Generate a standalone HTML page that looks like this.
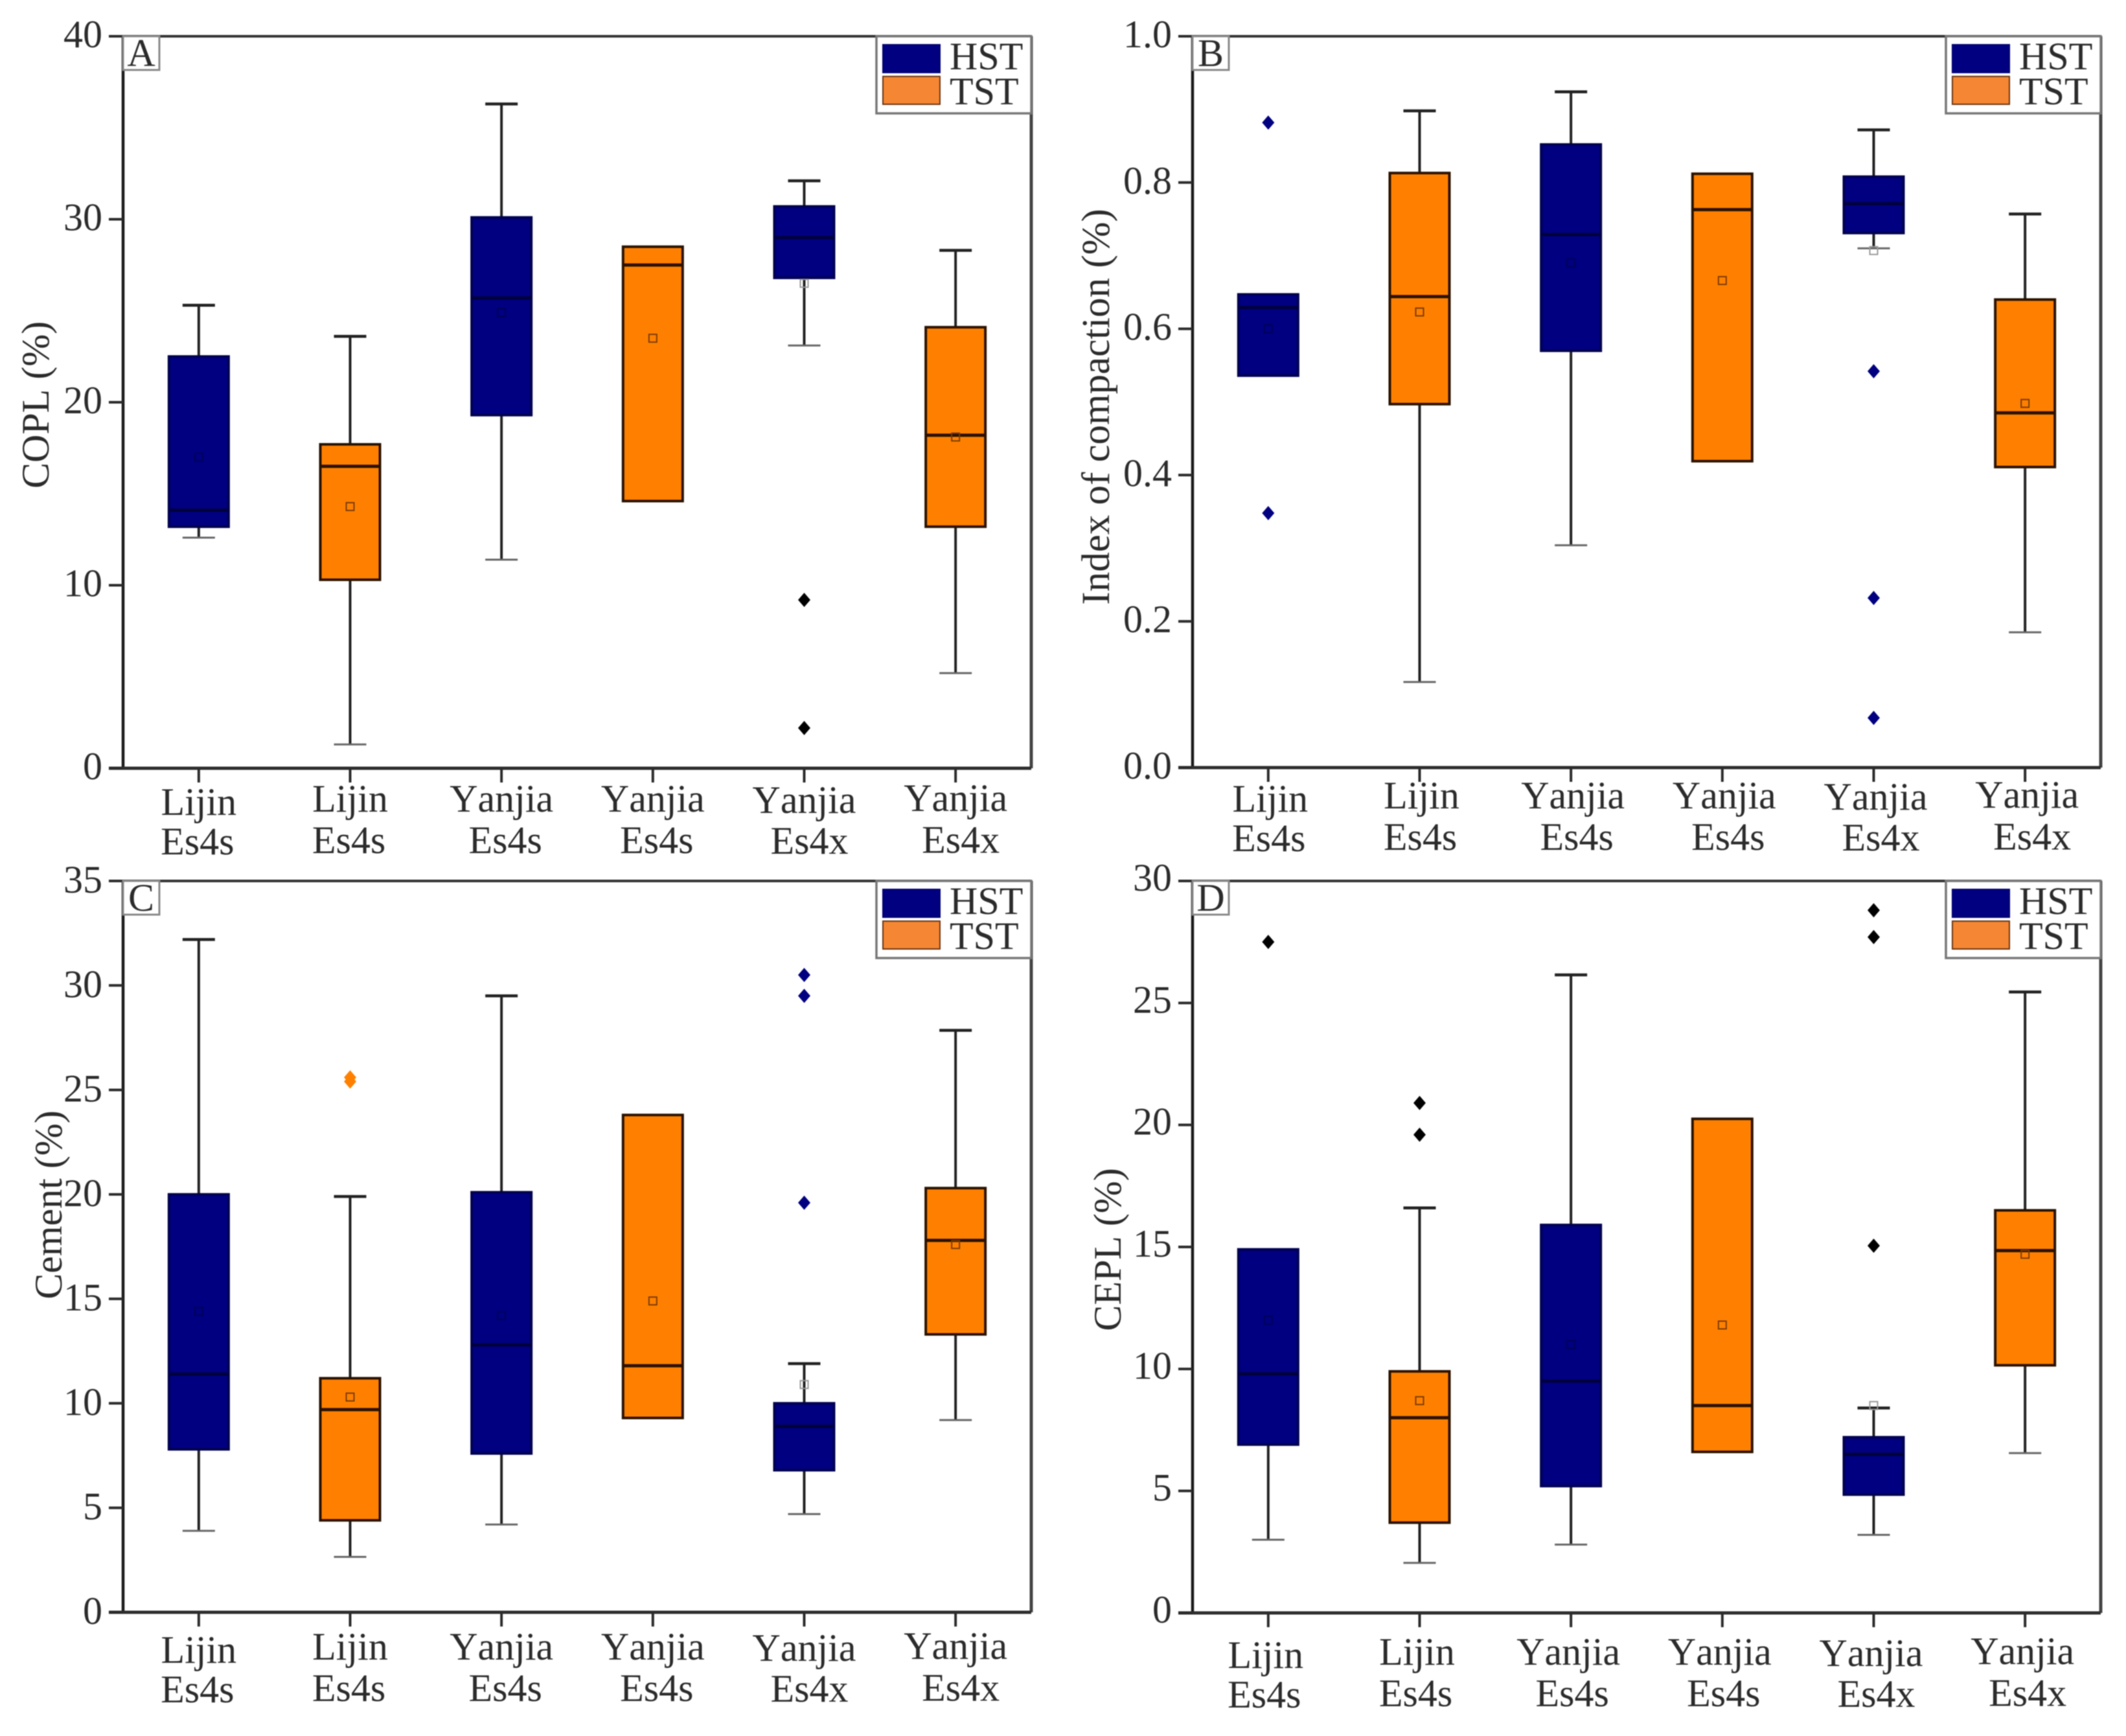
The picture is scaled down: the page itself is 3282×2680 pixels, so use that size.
<!DOCTYPE html>
<html lang="en">
<head>
<meta charset="utf-8">
<title>Box plots of COPL, index of compaction, cement and CEPL</title>
<style>
html,body{margin:0;padding:0;background:#fff;}
#figure{display:block;width:3282px;height:2680px;filter:blur(0.7px);}
text{font-family:"Liberation Serif","Times New Roman",serif;fill:#2b2b2b;font-kerning:none;}
</style>
</head>
<body>
<svg id="figure" xmlns="http://www.w3.org/2000/svg" width="3282" height="2680" viewBox="0 0 3282 2680"></svg>
<script>
// ---------- shared categories ----------
const siteNames = ["Lijin", "Lijin", "Yanjia", "Yanjia", "Yanjia", "Yanjia"];
const memberNames = ["Es4s", "Es4s", "Es4s", "Es4s", "Es4x", "Es4x"];
const tractNames = ["HST", "TST", "HST", "TST", "HST", "TST"];
const legendNames = ["HST", "TST"];

// ---------- panel A : COPL ----------
const panelATicks = [0, 10, 20, 30, 40];
const panelATickLabels = ["0", "10", "20", "30", "40"];
const panelAHigh = [25.3, 23.6, 36.3, null, 32.1, 28.3];
const panelAQ3 = [22.5, 17.7, 30.1, 28.5, 30.7, 24.1];
const panelAMedian = [14.1, 16.5, 25.7, 27.5, 29.0, 18.2];
const panelAQ1 = [13.2, 10.3, 19.3, 14.6, 26.8, 13.2];
const panelALow = [12.6, 1.3, 11.4, null, 23.1, 5.2];
const panelAMean = [17.0, 14.3, 24.9, 23.5, 26.5, 18.1];
const panelAOutliers = [[], [], [], [], [9.2, 2.2], []];

// ---------- panel B : index of compaction ----------
const panelBTicks = [0, 0.2, 0.4, 0.6, 0.8, 1.0];
const panelBTickLabels = ["0.0", "0.2", "0.4", "0.6", "0.8", "1.0"];
const panelBHigh = [null, 0.898, 0.924, null, 0.872, 0.757];
const panelBQ3 = [0.647, 0.813, 0.852, 0.812, 0.808, 0.640];
const panelBMedian = [0.629, 0.644, 0.729, 0.763, 0.771, 0.485];
const panelBQ1 = [0.536, 0.497, 0.570, 0.419, 0.731, 0.411];
const panelBLow = [null, 0.117, 0.304, null, 0.710, 0.185];
const panelBMean = [0.600, 0.623, 0.690, 0.666, 0.707, 0.498];
const panelBOutliers = [[0.882, 0.348], [], [], [], [0.542, 0.232, 0.068], []];

// ---------- panel C : cement ----------
const panelCTicks = [0, 5, 10, 15, 20, 25, 30, 35];
const panelCTickLabels = ["0", "5", "10", "15", "20", "25", "30", "35"];
const panelCHigh = [32.2, 19.9, 29.5, null, 11.9, 27.85];
const panelCQ3 = [20.0, 11.2, 20.1, 23.8, 10.0, 20.3];
const panelCMedian = [11.4, 9.7, 12.8, 11.8, 8.9, 17.8];
const panelCQ1 = [7.8, 4.4, 7.6, 9.3, 6.8, 13.3];
const panelCLow = [3.9, 2.65, 4.2, null, 4.7, 9.2];
const panelCMean = [14.4, 10.3, 14.2, 14.9, 10.9, 17.6];
const panelCOutliers = [[], [25.4, 25.6], [], [], [30.5, 29.5, 19.6], []];

// ---------- panel D : CEPL ----------
const panelDTicks = [0, 5, 10, 15, 20, 25, 30];
const panelDTickLabels = ["0", "5", "10", "15", "20", "25", "30"];
const panelDHigh = [null, 16.6, 26.15, null, 8.4, 25.45];
const panelDQ3 = [14.9, 9.9, 15.9, 20.25, 7.2, 16.5];
const panelDMedian = [9.8, 8.0, 9.5, 8.5, 6.5, 14.85];
const panelDQ1 = [6.9, 3.7, 5.2, 6.6, 4.85, 10.15];
const panelDLow = [3.0, 2.05, 2.8, null, 3.2, 6.55];
const panelDMean = [12.0, 8.7, 11.0, 11.8, 8.5, 14.7];
const panelDOutliers = [[27.5], [20.9, 19.6], [], [], [28.8, 27.7, 15.05], []];

const NS = "http://www.w3.org/2000/svg";
const FILL = { HST: "#000080", TST: "#ff8000" };
const EDGE = { HST: "#000050", TST: "#2a1200" };
const SWATCH = { HST: "#000080", TST: "#f58633" };
const root = document.getElementById("figure");

function mk(parent, tag, attrs, txt) {
  const n = document.createElementNS(NS, tag);
  for (const k in attrs) n.setAttribute(k, attrs[k]);
  if (txt !== undefined) n.textContent = txt;
  parent.appendChild(n);
  return n;
}

function drawPanel(p) {
  const g = mk(root, "g", {});
  
  

  const yScale = v => p.bottom - (v - p.yMin) / (p.yMax - p.yMin) * (p.bottom - p.top);
  const xScale = i => p.left + (p.right - p.left) * (i + 0.5) / siteNames.length;

  // plot frame
  const frame = [
    ["top", p.left - 22, p.top, p.right, p.top, 4, "#333"],
    ["left", p.left, p.top, p.left, p.bottom, 4.5, "#1a1a1a"],
    ["right", p.right, p.top, p.right, p.bottom, 5, "#444"],
    ["bottom", p.left - 22, p.bottom, p.right, p.bottom, 5, "#2e2e2e"]
  ];
  frame.forEach(f => {
    const line = mk(g, "line", { x1: f[1], y1: f[2], x2: f[3], y2: f[4], "stroke-width": f[5], stroke: f[6] });
    
    
  });

  // y axis ticks and labels
  p.ticks.forEach((t, i) => {
    const y = yScale(t);
    const tick = mk(g, "line", { x1: p.left - 22, y1: y, x2: p.left, y2: y, stroke: "#2b2b2b", "stroke-width": 4 });
    
    
    const lab = mk(g, "text", { x: p.left - 32, y: y + p.tickDy, "text-anchor": "end", "font-size": 60 }, p.tickLabels[i]);
    
    
  });

  // y axis title
  const title = mk(g, "text", {
    transform: "translate(" + p.titleX + "," + p.titleY + ") rotate(-90)",
    "text-anchor": "middle", "font-size": p.titleSize
  }, p.title);
  
  

  // categories
  const firstDrop = [5, 0, 0, 0, 2, -1];
  siteNames.forEach((site, i) => {
    const x = xScale(i);
    const tick = mk(g, "line", { x1: x, y1: p.bottom, x2: x, y2: p.bottom + 22, stroke: "#2b2b2b", "stroke-width": 4 });
    
    
    const shift = i < 2 ? -2 : (i < 4 ? 6 : 8);
    const l1 = mk(g, "text", { x: x + p.labelDx, y: p.bottom + p.labelBase + firstDrop[i], "text-anchor": "middle", "font-size": 60 }, site);
    
    
    const l2 = mk(g, "text", { x: x + shift + p.labelDx, y: p.bottom + p.labelBase + 64 + firstDrop[i] * 0.4, "text-anchor": "middle", "font-size": 60 }, memberNames[i]);
    
    
  });

  // boxes
  const boxW = 92, capW = 50;
  siteNames.forEach((site, i) => {
    const x = xScale(i), kind = tractNames[i];
    if (p.high[i] !== null) {
      const w = mk(g, "line", { x1: x, y1: yScale(p.high[i]), x2: x, y2: yScale(p.q3[i]), stroke: "#222", "stroke-width": 4 });
      
      
      const c = mk(g, "line", { x1: x - capW / 2, y1: yScale(p.high[i]), x2: x + capW / 2, y2: yScale(p.high[i]), stroke: "#222", "stroke-width": 4.5 });
      
      
    }
    if (p.low[i] !== null) {
      const w = mk(g, "line", { x1: x, y1: yScale(p.q1[i]), x2: x, y2: yScale(p.low[i]), stroke: "#222", "stroke-width": 4 });
      
      
      const c = mk(g, "line", { x1: x - capW / 2, y1: yScale(p.low[i]), x2: x + capW / 2, y2: yScale(p.low[i]), stroke: "#666", "stroke-width": 3 });
      
      
    }
    const box = mk(g, "rect", {
      x: x - boxW / 2, y: yScale(p.q3[i]), width: boxW, height: yScale(p.q1[i]) - yScale(p.q3[i]),
      fill: FILL[kind], stroke: EDGE[kind], "stroke-width": 4
    });
    
    
    const med = mk(g, "line", {
      x1: x - boxW / 2, y1: yScale(p.median[i]), x2: x + boxW / 2, y2: yScale(p.median[i]),
      stroke: kind === "HST" ? "#00003c" : "#2a1200", "stroke-width": 5
    });
    
    
    const my = yScale(p.mean[i]);
    const mean = mk(g, "rect", {
      x: x - 6, y: my - 6, width: 12, height: 12, fill: "none",
      stroke: kind === "HST" ? "#00005a" : "#7a3a00", "stroke-width": 2
    });
    
    
    if (my > yScale(p.q1[i]) - 2 || my < yScale(p.q3[i]) + 2) mean.setAttribute("stroke", "#999");

    p.outliers[i].forEach(v => {
      const oy = yScale(v);
      const d = mk(g, "path", {
        d: "M" + x + " " + (oy - 11) + "L" + (x + 9.5) + " " + oy + "L" + x + " " + (oy + 11) + "L" + (x - 9.5) + " " + oy + "Z",
        fill: p.outlierColor(kind)
      });
      
      
    });
  });

  // panel letter
  const lb = mk(g, "rect", { x: p.left, y: p.top, width: 56, height: 52, fill: "#fff", stroke: "#888", "stroke-width": 3 });
  
  
  const lt = mk(g, "text", { x: p.left + 28, y: p.top + 46, "text-anchor": "middle", "font-size": 60 }, p.letter);
  
  

  // legend
  const lgx = p.right - 239;
  const legend = mk(g, "g", {});
  
  
  const lf = mk(legend, "rect", { x: lgx, y: p.top, width: 239, height: 119, fill: "#fff", stroke: "#777", "stroke-width": 3.5 });
  
  
  legendNames.forEach((nm, i) => {
    const sw = mk(legend, "rect", {
      x: lgx + 10, y: p.top + 13 + i * 49, width: 88, height: 43,
      fill: SWATCH[nm], stroke: nm === "HST" ? "#000070" : "#6a3410", "stroke-width": 2
    });
    
    
    const tx = mk(legend, "text", { x: lgx + 113, y: p.top + 51 + i * 54, "font-size": 60 }, nm);
    
    
  });
}

drawPanel({
  letter: "A", title: "COPL (%)", left: 190, right: 1592, top: 56, bottom: 1186,
  yMin: 0, yMax: 40, ticks: panelATicks, tickLabels: panelATickLabels,
  titleX: 75, titleY: 625, titleSize: 60, tickDy: 17, labelBase: 67, labelDx: 0,
  high: panelAHigh, q3: panelAQ3, median: panelAMedian, q1: panelAQ1, low: panelALow,
  mean: panelAMean, outliers: panelAOutliers, outlierColor: () => "#000"
});
drawPanel({
  letter: "B", title: "Index of compaction (%)", left: 1841, right: 3243, top: 56, bottom: 1185,
  yMin: 0, yMax: 1, ticks: panelBTicks, tickLabels: panelBTickLabels,
  titleX: 1712, titleY: 628, titleSize: 61, tickDy: 17, labelBase: 63, labelDx: 3,
  high: panelBHigh, q3: panelBQ3, median: panelBMedian, q1: panelBQ1, low: panelBLow,
  mean: panelBMean, outliers: panelBOutliers, outlierColor: () => "#000080"
});
drawPanel({
  letter: "C", title: "Cement (%)", left: 190, right: 1592, top: 1360, bottom: 2489,
  yMin: 0, yMax: 35, ticks: panelCTicks, tickLabels: panelCTickLabels,
  titleX: 95, titleY: 1860, titleSize: 60, tickDy: 18, labelBase: 73, labelDx: 0,
  high: panelCHigh, q3: panelCQ3, median: panelCMedian, q1: panelCQ1, low: panelCLow,
  mean: panelCMean, outliers: panelCOutliers, outlierColor: k => (k === "TST" ? "#ff8000" : "#000080")
});
drawPanel({
  letter: "D", title: "CEPL (%)", left: 1841, right: 3243, top: 1360, bottom: 2490,
  yMin: 0, yMax: 30, ticks: panelDTicks, tickLabels: panelDTickLabels,
  titleX: 1730, titleY: 1929, titleSize: 60, tickDy: 15, labelBase: 80, labelDx: -4,
  high: panelDHigh, q3: panelDQ3, median: panelDMedian, q1: panelDQ1, low: panelDLow,
  mean: panelDMean, outliers: panelDOutliers, outlierColor: () => "#000"
});
</script>
</body>
</html>
